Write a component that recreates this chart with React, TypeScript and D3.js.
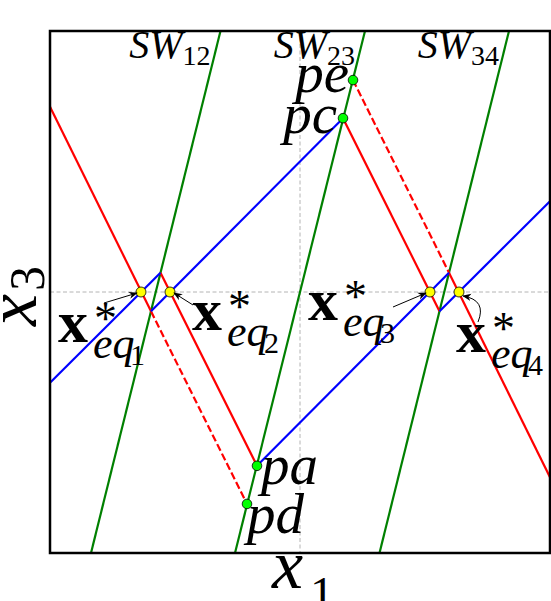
import React from "react";
import * as d3 from "d3";

// ---- data (phase-plane units: x1 in [-5,5], x3 in [-5,5]) ----
const xDomain = [-5, 5];
const yDomain = [-5, 5];

// switching lines SW12, SW23, SW34 (bottom / top x at x3 = -5 / +5)
const swNames = ["12", "23", "34"];
const swBottomX = [-4.18, -1.3, 1.59];
const swTopX = [-1.59, 1.3, 4.18];

// equilibria on x3 = 0
const eqX = [-3.18, -2.6, 2.6, 3.18];
const eqNames = ["1", "2", "3", "4"];

// special points on SW23
const ptNames = ["pe", "pc", "pa", "pd"];
const ptX = [1.06, 0.86, -0.86, -1.06];
const ptY = [4.06, 3.33, -3.33, -4.06];

// red (solid) segments: [x0, y0, x1, y1]
const redSolid = [
  [-5, 3.55, -2.98, -0.37],
  [-2.79, 0.37, -0.86, -3.33],
  [0.86, 3.33, 2.79, -0.37],
  [2.98, 0.37, 5, -3.55],
];
// red dashed (virtual) segments
const redDashed = [
  [-2.98, -0.37, -1.06, -4.06],
  [1.06, 4.06, 2.98, 0.37],
];
// blue segments
const blueSeg = [
  [-5, -1.74, -2.79, 0.37],
  [-2.98, -0.37, 0.86, 3.33],
  [-0.86, -3.33, 2.98, 0.37],
  [2.79, -0.37, 5, 1.74],
];

const W = 551;
const H = 601;
const L = 50, R = 550, T = 31, B = 553;
const MATH = '"Liberation Serif"';
const LW = 2.2;

const tStyle = (size: number, italic = false, bold = false): React.CSSProperties => ({
  fontFamily: MATH,
  fontSize: size + "px",
  fontStyle: italic ? "italic" : "normal",
  fontWeight: bold ? "bold" : "normal",
});

export default function App() {
  const x = d3.scaleLinear().domain(xDomain).range([L, R]);
  const y = d3.scaleLinear().domain(yDomain).range([B, T]);
  const line = d3.line<[number, number]>().x((d) => x(d[0])).y((d) => y(d[1]));
  const seg = (s: number[]) => line([[s[0], s[1]], [s[2], s[3]]]) as string;

  const ptLabel: Record<string, { dx: number; dy: number; anchor: string }> = {
    pe: { dx: -4, dy: 12, anchor: "end" },
    pc: { dx: -6, dy: 15, anchor: "end" },
    pa: { dx: 4, dy: 18, anchor: "start" },
    pd: { dx: 0, dy: 29, anchor: "start" },
  };

  const eqLabelOff = [
    { dx: -83, dy: 50 },
    { dx: 22, dy: 38 },
    { dx: -122, dy: 28 },
    { dx: -3, dy: 60 },
  ];
  const arrowFrom = [
    { dx: -37, dy: 11 },
    { dx: 23, dy: 13 },
    { dx: -37, dy: 15 },
    { dx: 19, dy: 30 },
  ];

  return (
    <svg
      width={W}
      height={H}
      style={{ position: "absolute", left: 0, top: 0, background: "#fff" }}
    >
      <defs>
        <clipPath id="plotArea">
          <rect x={L} y={T} width={R - L} height={B - T} />
        </clipPath>
        <marker id="ah" viewBox="0 0 10 10" refX="9" refY="5" markerWidth="9" markerHeight="9" orient="auto" markerUnits="userSpaceOnUse">
          <path d="M0,1 L10,5 L0,9 L3,5 Z" fill="#000" />
        </marker>
      </defs>
      <rect x={0} y={0} width={W} height={H} fill="#fff" />

      <g clipPath="url(#plotArea)">
        <line x1={L} x2={R} y1={y(0)} y2={y(0)} stroke="#b4b4b4" strokeWidth={1} strokeDasharray="4 2.5" />
        <line x1={x(0)} x2={x(0)} y1={T} y2={B} stroke="#b4b4b4" strokeWidth={1} strokeDasharray="4 2.5" />

        {swBottomX.map((bx, i) => (
          <path key={"sw" + i} d={line([[bx, yDomain[0]], [swTopX[i], yDomain[1]]]) as string} stroke="#008000" strokeWidth={LW} fill="none" />
        ))}

        {redSolid.map((s, i) => (
          <path key={"r" + i} d={seg(s)} stroke="#ff0000" strokeWidth={LW} fill="none" />
        ))}
        {redDashed.map((s, i) => (
          <path key={"rd" + i} d={seg(s)} stroke="#ff0000" strokeWidth={LW} strokeDasharray="7.4 3.2" fill="none" />
        ))}
        {blueSeg.map((s, i) => (
          <path key={"b" + i} d={seg(s)} stroke="#0000ff" strokeWidth={LW} fill="none" />
        ))}

        {ptX.map((px, i) => (
          <circle key={"p" + i} cx={x(px)} cy={y(ptY[i])} r={4.8} fill="#00ff00" stroke="#000" strokeWidth={0.8} />
        ))}
        {eqX.map((ex, i) => (
          <circle key={"e" + i} cx={x(ex)} cy={y(0)} r={5} fill="#ffff00" stroke="#000" strokeWidth={0.8} />
        ))}
      </g>

      <rect x={L} y={T} width={R - L} height={B - T} fill="none" stroke="#000" strokeWidth={2.5} />

      {swNames.map((n, i) => (
        <text key={"swl" + i} x={x(swTopX[i]) - 10} y={58} textAnchor="end" style={tStyle(40, true)} fill="#000">
          <tspan style={tStyle(40, true)}>SW</tspan>
          <tspan style={tStyle(28)} dy={7}>{n}</tspan>
        </text>
      ))}

      {ptNames.map((n, i) => {
        const o = ptLabel[n];
        return (
          <text key={"pl" + i} x={x(ptX[i]) + o.dx} y={y(ptY[i]) + o.dy} textAnchor={o.anchor as any} style={tStyle(57, true)} fill="#000">
            {n}
          </text>
        );
      })}

      {eqX.map((ex, i) => {
        const px = x(ex), py = y(0);
        const lx = px + eqLabelOff[i].dx, ly = py + eqLabelOff[i].dy;
        const ax = px + arrowFrom[i].dx, ay = py + arrowFrom[i].dy;
        const tipX = i === 0 || i === 2 ? px - 4 : px + 4;
        const tipY = i === 3 ? py + 4 : py + 1;
        const d = i === 3
          ? `M${ax},${ay} Q${px + 28},${py + 8} ${tipX},${tipY}`
          : `M${ax},${ay} L${tipX},${tipY}`;
        return (
          <g key={"el" + i}>
            <path d={d} stroke="#000" strokeWidth={1} fill="none" markerEnd="url(#ah)" />
            <text x={lx} y={ly} style={tStyle(60, false, true)} fill="#000">x</text>
            <text x={lx + 36} y={ly - 8} style={tStyle(46)} fill="#000">*</text>
            <text x={lx + 35} y={ly + 16} style={tStyle(44, true)} fill="#000">eq</text>
            <text x={lx + 72} y={ly + 23} style={tStyle(30)} fill="#000">{eqNames[i]}</text>
          </g>
        );
      })}

      <text x={272} y={588} style={tStyle(70, true)} fill="#000">
        <tspan style={tStyle(70, true)}>x</tspan>
        <tspan style={tStyle(48)} dx={7} dy={22}>1</tspan>
      </text>
      <text transform="translate(36,326) rotate(-90)" style={tStyle(72, true)} fill="#000">
        <tspan style={tStyle(72, true)}>x</tspan>
        <tspan style={tStyle(50)} dx={3} dy={8}>3</tspan>
      </text>
    </svg>
  );
}
